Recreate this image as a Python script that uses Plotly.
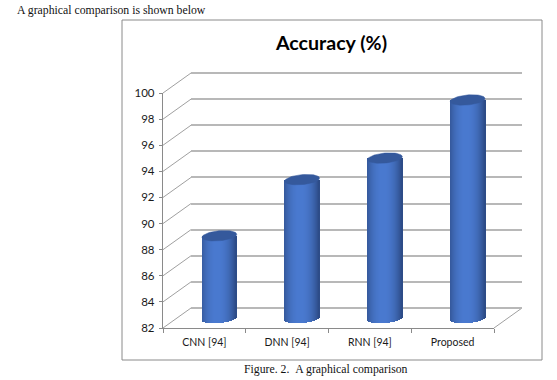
import numpy as np
import plotly.graph_objects as go

categories = ["CNN [94]", "DNN [94]", "RNN [94]", "Proposed"]
accuracy = [88.3, 92.6, 94.25, 98.7]
y_ticks = list(range(82, 101, 2))

W, H = 557, 380
Y_MIN, Y_MAX = 82, 100
PX_PER_UNIT = 235.0 / (Y_MAX - Y_MIN)
X_SPAN = 331.0
FRONT = (163.0, 328.0)
BACK = (191.0, 308.0)
MID = (178.0, 318.0)
GRID = "#a0a0a0"
AXIS = "#8a8a8a"
TEXT = "#1a1a1a"
FONT = "Lato, 'Open Sans', sans-serif"
SERIF = "'Liberation Serif', serif"


def xdom(left):
    return [left / W, (left + X_SPAN) / W]


def ydom(bottom, lo, hi):
    """Domain for a value range [lo, hi], where Y_MIN sits at pixel `bottom`."""
    return [1 - (bottom - (lo - Y_MIN) * PX_PER_UNIT) / H,
            1 - (bottom - (hi - Y_MIN) * PX_PER_UNIT) / H]


def shade(t):
    """Cylinder side colour, t in [-1, 1] across the column."""
    k = np.clip(1 - abs((t + 0.08) / 1.08) ** 2.2, 0, 1)
    dark = np.array([44, 74, 132])
    light = np.array([74, 122, 208])
    r, g, b = (dark + (light - dark) * k).astype(int)
    return f"rgb({r},{g},{b})"


fig = go.Figure()
idx = list(range(len(categories)))

# back wall: native gridlines
fig.add_trace(go.Scatter(x=categories, y=accuracy, xaxis="x", yaxis="y",
                         mode="markers", marker=dict(opacity=0), hoverinfo="skip", showlegend=False))

# cylinders on mid-depth axes
half_w = 0.21
cap_h = 5.0 / PX_PER_UNIT
tilt = 1.5 / PX_PER_UNIT
N = 35
edges = np.linspace(-1, 1, N + 1)
for a, b in zip(edges[:-1], edges[1:]):
    t = (a + b) / 2
    base = Y_MIN - cap_h * np.sqrt(max(0, 1 - t * t)) + tilt * t
    fig.add_trace(go.Bar(
        x=idx, y=[v - base for v in accuracy], base=[base] * len(idx),
        offset=a * half_w, width=(b - a) * half_w * 1.3,
        marker=dict(color=shade(t), line=dict(width=0)),
        xaxis="x2", yaxis="y2", hoverinfo="skip", showlegend=False))

th = np.linspace(0, 2 * np.pi, 60)
for i, v in zip(idx, accuracy):
    fig.add_trace(go.Scatter(
        x=i + half_w * np.cos(th),
        y=v + cap_h * np.sin(th) + tilt * np.cos(th),
        mode="lines", fill="toself", fillcolor="#35599c",
        line=dict(color="#35599c", width=0.5),
        xaxis="x2", yaxis="y2", hoverinfo="skip", showlegend=False, cliponaxis=False))

# front axes carry the ticks and labels
fig.add_trace(go.Scatter(x=categories, y=accuracy, xaxis="x3", yaxis="y3",
                         mode="markers", marker=dict(opacity=0), hoverinfo="skip", showlegend=False))

# frame and side-wall / floor lines
shapes = [dict(type="rect", xref="paper", yref="paper", x0=122 / W, x1=542 / W,
               y0=1 - 360 / H, y1=1 - 20 / H, line=dict(color=AXIS, width=1), layer="below")]
for v in y_ticks:
    yf = FRONT[1] - (v - Y_MIN) * PX_PER_UNIT
    yb = BACK[1] - (v - Y_MIN) * PX_PER_UNIT
    shapes.append(dict(type="line", xref="paper", yref="paper", x0=FRONT[0] / W, x1=BACK[0] / W,
                       y0=1 - yf / H, y1=1 - yb / H, line=dict(color=GRID, width=1), layer="below"))
shapes.append(dict(type="line", xref="paper", yref="paper",
                   x0=(FRONT[0] + X_SPAN) / W, x1=(BACK[0] + X_SPAN) / W,
                   y0=1 - FRONT[1] / H, y1=1 - BACK[1] / H, line=dict(color=GRID, width=1), layer="below"))

hidden = dict(visible=False, fixedrange=True)
fig.update_layout(
    width=W, height=H,
    margin=dict(l=0, r=0, t=0, b=0, pad=0, autoexpand=False),
    paper_bgcolor="white", plot_bgcolor="rgba(0,0,0,0)",
    barmode="overlay", bargap=0, showlegend=False,
    font=dict(family=FONT, color=TEXT, size=11),
    title=dict(text="<b>Accuracy (%)</b>", x=331.5 / W, xanchor="center", y=1 - 43 / H, yanchor="middle",
               font=dict(family=FONT, size=19.6, color="#000000")),
    shapes=shapes,
    xaxis=dict(domain=xdom(BACK[0]), anchor="y", type="category", categoryorder="array",
               categoryarray=categories, range=[-0.5, 3.5], visible=False),
    # range runs past the ticks so the 82 and 100 gridlines are drawn too
    yaxis=dict(domain=ydom(BACK[1], 81, 101), anchor="x", range=[81, 101], tickvals=y_ticks,
               showgrid=True, gridcolor="#b8b8b8", gridwidth=2, showline=False, zeroline=False,
               showticklabels=False, ticks=""),
    xaxis2=dict(domain=xdom(MID[0]), anchor="y2", type="linear", range=[-0.5, 3.5], **hidden),
    yaxis2=dict(domain=ydom(MID[1], 80, 102), anchor="x2", range=[80, 102], **hidden),
    xaxis3=dict(domain=xdom(FRONT[0]), anchor="y3", type="category", categoryorder="array",
                categoryarray=categories, range=[-0.5, 3.5], tickson="boundaries",
                showline=True, linecolor=AXIS, linewidth=1.4, ticks="outside", ticklen=4,
                tickcolor=AXIS, showgrid=False, zeroline=False, tickangle=0, ticklabelstandoff=4,
                tickfont=dict(family=FONT, size=10.5, color=TEXT)),
    yaxis3=dict(domain=ydom(FRONT[1], Y_MIN, Y_MAX), anchor="x3", range=[Y_MIN, Y_MAX], tickvals=y_ticks,
                showline=True, linecolor=AXIS, linewidth=1.4, ticks="outside", ticklen=3,
                tickcolor=AXIS, showgrid=False, zeroline=False, ticklabelstandoff=2,
                tickfont=dict(family=FONT, size=11.5, color=TEXT)),
    annotations=[
        dict(text="A graphical comparison is shown below", xref="paper", yref="paper",
             x=14.5 / W, y=1 - 10.5 / H, xanchor="left", yanchor="middle", showarrow=False,
             font=dict(family=SERIF, size=11.75, color="#111111")),
        dict(text="Figure. 2.\u00a0\u00a0A graphical comparison", xref="paper", yref="paper",
             x=326 / W, y=1 - 369 / H, xanchor="center", yanchor="middle", showarrow=False,
             font=dict(family=SERIF, size=11.75, color="#111111")),
    ],
)

fig.write_html("out.html", config=dict(displayModeBar=False),
               post_script="document.body.style.margin='0';")
